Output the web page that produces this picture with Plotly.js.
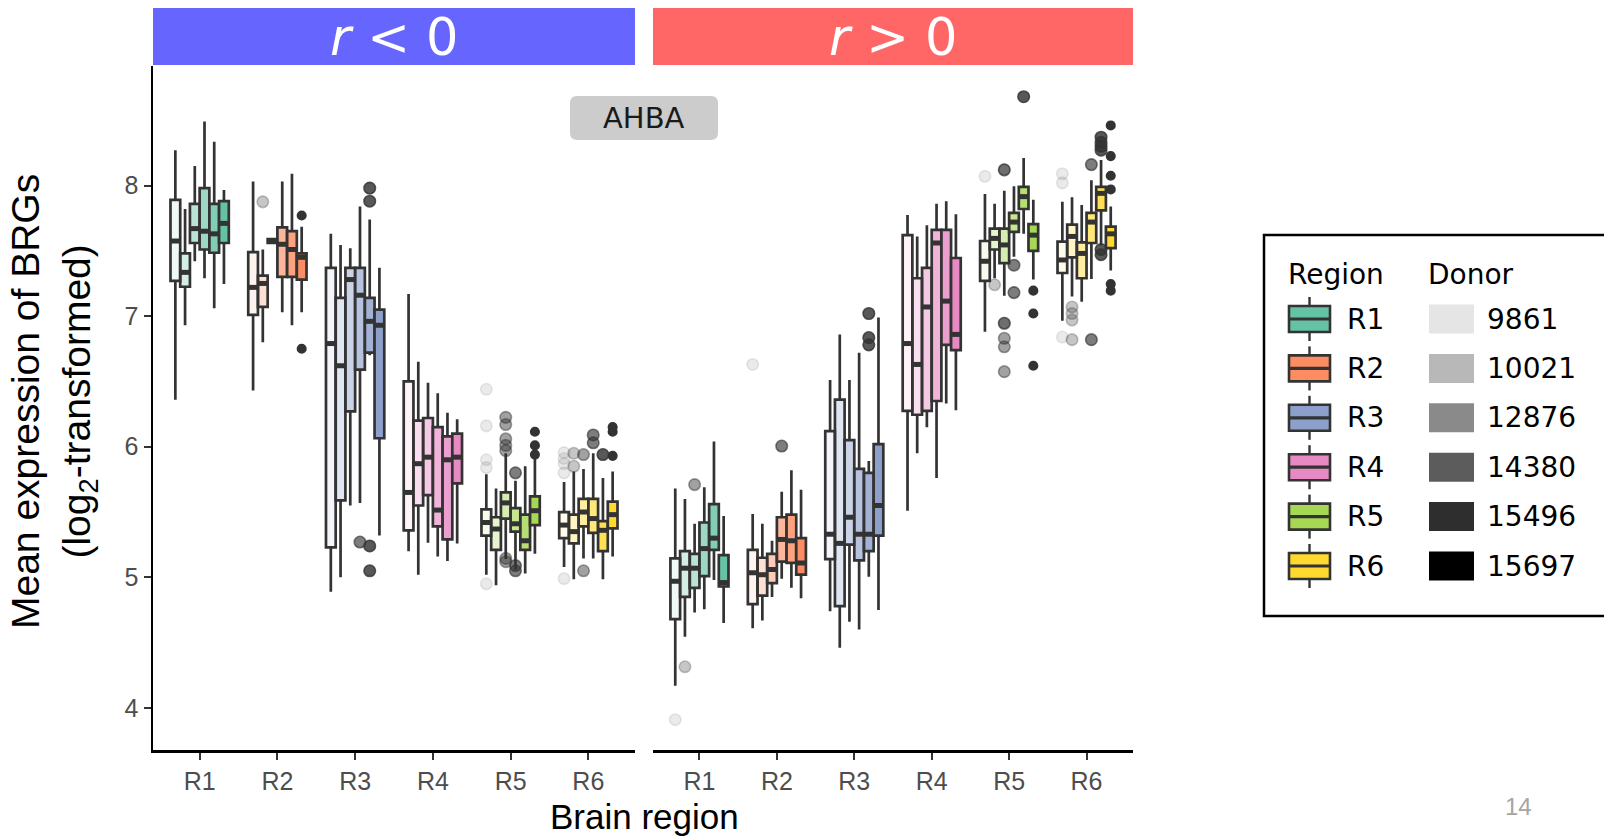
<!DOCTYPE html>
<html><head><meta charset="utf-8">
<script src="https://cdn.plot.ly/plotly-3.0.1.min.js"></script>
<style>html,body{margin:0;padding:0;background:#fff;}#chart{width:1604px;height:837px;}</style>
</head><body><div id="chart"></div>
<script>
// ---------------- data ----------------
const regions = ['R1','R2','R3','R4','R5','R6'];
const donors = ['9861','10021','12876','14380','15496','15697'];
const panelLabels = ['<i>r</i> &lt; 0', '<i>r</i> &gt; 0'];
const regionColors = ['#66C2A5','#FC8D62','#8DA0CB','#E78AC3','#A6D854','#FFD92F'];
const donorAlpha = [0.1, 0.28, 0.46, 0.64, 0.82, 1.0];

// r < 0 panel : rows = region R1..R6, columns = donor (same order as donors)
const negLower = [
  [6.36, 6.93, 7.42, 7.29, 7.06, 7.245],
  [6.43, 6.80, 7.55, 7.03, 6.93, 7.03],
  [4.89, 5.00, 5.55, 5.57, 6.70, 5.32],
  [5.20, 5.02, 5.265, 5.16, 5.125, 5.26],
  [5.02, 4.94, 5.14, 5.06, 5.03, 5.18],
  [5.08, 4.985, 5.145, 5.145, 4.985, 5.16]];
const negQ1 = [
  [7.27, 7.225, 7.56, 7.51, 7.485, 7.56],
  [7.01, 7.07, 7.56, 7.30, 7.30, 7.28],
  [5.23, 5.59, 6.27, 6.59, 6.72, 6.065],
  [5.36, 5.55, 5.63, 5.39, 5.29, 5.72],
  [5.32, 5.21, 5.45, 5.35, 5.21, 5.40],
  [5.30, 5.26, 5.39, 5.34, 5.20, 5.375]];
const negMedian = [
  [7.575, 7.335, 7.67, 7.65, 7.63, 7.71],
  [7.22, 7.25, 7.575, 7.55, 7.51, 7.45],
  [6.79, 6.62, 7.28, 7.16, 6.96, 6.93],
  [5.65, 5.87, 5.92, 5.515, 5.90, 5.92],
  [5.42, 5.37, 5.57, 5.41, 5.28, 5.51],
  [5.40, 5.35, 5.50, 5.45, 5.36, 5.48]];
const negQ3 = [
  [7.89, 7.48, 7.86, 7.98, 7.86, 7.88],
  [7.49, 7.31, 7.59, 7.68, 7.65, 7.48],
  [7.37, 7.14, 7.37, 7.37, 7.14, 7.05],
  [6.50, 6.20, 6.22, 6.15, 6.08, 6.10],
  [5.52, 5.46, 5.65, 5.53, 5.48, 5.62],
  [5.50, 5.48, 5.60, 5.60, 5.43, 5.58]];
const negUpper = [
  [8.27, 7.82, 8.15, 8.49, 8.335, 7.965],
  [8.03, 7.51, 7.60, 8.03, 8.09, 7.685],
  [7.63, 7.545, 7.52, 7.84, 7.74, 7.37],
  [7.17, 6.65, 6.49, 6.41, 6.26, 6.21],
  [5.79, 5.68, 5.95, 5.74, 5.85, 5.95],
  [5.73, 5.81, 5.83, 5.95, 5.76, 5.81]];
const negOutRegion = ['R2','R2','R2','R3','R3','R3','R3','R3',
  'R5','R5','R5','R5','R5','R5','R5','R5','R5','R5','R5','R5','R5','R5','R5','R5','R5','R5',
  'R6','R6','R6','R6','R6','R6','R6','R6','R6','R6','R6','R6','R6','R6','R6'];
const negOutDonor = ['10021','15697','15697','14380','15496','15496','15496','15496',
  '9861','9861','9861','9861','9861','12876','12876','12876','12876','12876','12876','12876','14380','14380','14380','15697','15697','15697',
  '9861','9861','9861','9861','9861','10021','10021','12876','12876','14380','14380','15496','15697','15697','15697'];
const negOutValue = [7.875, 7.77, 6.75, 5.27, 7.98, 7.88, 5.24, 5.05,
  6.44, 6.16, 5.90, 5.84, 4.95, 6.225, 6.17, 6.06, 6.01, 5.97, 5.145, 5.12, 5.80, 5.09, 5.05, 6.115, 6.01, 5.94,
  5.955, 5.91, 5.87, 5.80, 4.99, 5.95, 5.85, 5.94, 5.05, 6.09, 6.03, 5.94, 6.15, 6.115, 5.93];

// r > 0 panel
const posLower = [
  [4.17, 4.545, 4.73, 4.755, 4.98, 4.65],
  [4.61, 4.67, 4.85, 4.99, 4.92, 4.84],
  [4.74, 4.46, 4.66, 4.60, 5.005, 4.75],
  [5.51, 5.95, 6.15, 5.76, 6.33, 6.28],
  [6.88, 7.29, 7.155, 7.455, 7.63, 7.28],
  [6.965, 7.15, 7.11, 7.285, 7.54, 7.35]];
const posQ1 = [
  [4.68, 4.85, 4.92, 5.01, 5.21, 4.93],
  [4.795, 4.86, 4.955, 5.12, 5.11, 5.02],
  [5.14, 4.78, 5.25, 5.13, 5.20, 5.32],
  [6.275, 6.245, 6.275, 6.35, 6.78, 6.74],
  [7.27, 7.51, 7.405, 7.645, 7.82, 7.50],
  [7.33, 7.45, 7.29, 7.56, 7.81, 7.52]];
const posMedian = [
  [4.97, 5.07, 5.07, 5.22, 5.30, 4.96],
  [5.035, 5.02, 5.06, 5.29, 5.28, 5.11],
  [5.33, 5.26, 5.46, 5.33, 5.33, 5.55],
  [6.79, 6.63, 7.07, 7.56, 7.115, 6.86],
  [7.42, 7.595, 7.545, 7.72, 7.915, 7.62],
  [7.43, 7.61, 7.48, 7.72, 7.94, 7.63]];
const posQ3 = [
  [5.145, 5.20, 5.18, 5.42, 5.56, 5.17],
  [5.21, 5.15, 5.18, 5.46, 5.48, 5.30],
  [6.12, 6.36, 6.05, 5.83, 5.80, 6.02],
  [7.62, 7.29, 7.37, 7.66, 7.66, 7.445],
  [7.575, 7.67, 7.67, 7.79, 7.99, 7.705],
  [7.57, 7.70, 7.565, 7.79, 7.99, 7.685]];
const posUpper = [
  [5.68, 5.60, 5.41, 5.69, 6.04, 5.47],
  [5.485, 5.41, 5.28, 5.655, 5.82, 5.67],
  [6.51, 6.86, 6.51, 6.72, 5.89, 6.99],
  [7.775, 7.61, 7.695, 7.86, 7.88, 7.78],
  [7.935, 7.86, 7.96, 7.995, 8.21, 7.89],
  [7.875, 7.91, 7.85, 8.04, 8.195, 7.84]];
const posOutRegion = ['R1','R1','R1','R2','R2','R3','R3','R3',
  'R5','R5','R5','R5','R5','R5','R5','R5','R5','R5','R5','R5','R5','R5','R5',
  'R6','R6','R6','R6','R6','R6','R6','R6','R6','R6','R6','R6','R6','R6','R6','R6','R6','R6','R6','R6','R6'];
const posOutDonor = ['9861','10021','12876','9861','14380','15496','15496','15496',
  '9861','10021','12876','12876','12876','12876','12876','12876','12876','14380','14380','15496','15697','15697','15697',
  '9861','9861','9861','10021','10021','10021','10021','14380','14380','15496','15496','15496','15496','15496','15496','15697','15697','15697','15697','15697','15697'];
const posOutValue = [3.91, 4.315, 5.71, 6.63, 6.005, 7.02, 6.835, 6.78,
  8.07, 7.24, 8.12, 8.12, 6.945, 6.945, 6.83, 6.765, 6.575, 7.39, 7.18, 8.68, 7.195, 7.02, 6.62,
  8.09, 8.02, 6.84, 7.07, 7.02, 6.97, 6.82, 8.16, 6.82, 8.37, 8.33, 8.30, 8.27, 7.51, 7.47, 8.46, 8.225, 8.075, 7.97, 7.245, 7.195];

// ---------------- geometry helpers (layout only) ----------------
const PL = 153, PR = 1133, PT = 66, PB = 750;
const px2x = p => (p - PL) / (PR - PL);
const px2y = p => (PB - p) / (PB - PT);
const slot = 0.125;
const offset = d => (d - (donors.length - 1) / 2) * slot;

function hexA(hex, a) {
  const r = parseInt(hex.slice(1,3),16), g = parseInt(hex.slice(3,5),16), b = parseInt(hex.slice(5,7),16);
  return `rgba(${r},${g},${b},${a})`;
}

const panels = [
  {xa:'x',  lower:negLower, q1:negQ1, med:negMedian, q3:negQ3, upper:negUpper, oR:negOutRegion, oD:negOutDonor, oV:negOutValue},
  {xa:'x2', lower:posLower, q1:posQ1, med:posMedian, q3:posQ3, upper:posUpper, oR:posOutRegion, oD:posOutDonor, oV:posOutValue}
];

const traces = [];
panels.forEach(P => {
  const mx = [], my = [];
  regions.forEach((reg, r) => {
    donors.forEach((don, d) => {
      const xc = r + 1 + offset(d);
      traces.push({
        type:'box', orientation:'v', xaxis:P.xa, yaxis:'y',
        x:[xc], q1:[P.q1[r][d]], median:[P.med[r][d]], q3:[P.q3[r][d]],
        lowerfence:[P.lower[r][d]], upperfence:[P.upper[r][d]],
        width: slot, whiskerwidth:0, boxpoints:false,
        fillcolor: hexA(regionColors[r], donorAlpha[d]),
        line:{color:'#333333', width:2.7},
        showlegend:false, hoverinfo:'skip'
      });
      mx.push(xc - slot/2, xc + slot/2, null);
      my.push(P.med[r][d], P.med[r][d], null);
    });
  });
  traces.push({type:'scatter', mode:'lines', xaxis:P.xa, yaxis:'y', x:mx, y:my,
    line:{color:'#333333', width:5}, showlegend:false, hoverinfo:'skip'});
  donors.forEach((don, d) => {
    const xs = [], ys = [];
    P.oV.forEach((v, i) => {
      if (P.oD[i] === don) { xs.push(regions.indexOf(P.oR[i]) + 1 + offset(d)); ys.push(v); }
    });
    if (!xs.length) return;
    const col = `rgba(51,51,51,${donorAlpha[d]})`;
    traces.push({type:'scatter', mode:'markers', xaxis:P.xa, yaxis:'y', x:xs, y:ys,
      marker:{size: d === donors.length - 1 ? 8.5 : 11.5, color:col, line:{color:col, width:1.6}},
      showlegend:false, hoverinfo:'skip'});
  });
});

// ---------------- layout ----------------
const tickFont = {family:'Liberation Sans, Arial, sans-serif', size:25, color:'#4d4d4d'};
function xax(domain) {
  return {domain, range:[0.4, regions.length + 0.6], tickvals:regions.map((_,i)=>i+1), ticktext:regions,
    showline:true, linecolor:'#000', linewidth:2.5, ticks:'outside', ticklen:7, tickwidth:2, tickcolor:'#333',
    tickfont:tickFont, showgrid:false, zeroline:false, anchor:'y', fixedrange:true};
}
const shapes = [], annotations = [];
function rectPx(x0, y0, x1, y1, fill, line) {
  shapes.push({type:'rect', xref:'paper', yref:'paper', x0:px2x(x0), x1:px2x(x1), y0:px2y(y0), y1:px2y(y1),
    fillcolor:fill, line: line || {width:0}, layer:'above'});
}
function linePx(x0, y0, x1, y1, color, width) {
  shapes.push({type:'line', xref:'paper', yref:'paper', x0:px2x(x0), x1:px2x(x1), y0:px2y(y0), y1:px2y(y1),
    line:{color, width}, layer:'above'});
}
function textPx(text, x, y, size, color, family, xanchor, extra) {
  annotations.push(Object.assign({xref:'paper', yref:'paper', x:px2x(x), y:px2y(y), text, showarrow:false,
    xanchor: xanchor || 'center', yanchor:'middle', font:{size, color, family}}, extra || {}));
}

// facet strips
rectPx(153, 8, 635, 65, '#6666FF');
rectPx(653, 8, 1133, 65, '#FF6666');
textPx(panelLabels[0], 394, 38, 51, '#ffffff', 'DejaVu Sans, sans-serif');
textPx(panelLabels[1], 893, 38, 51, '#ffffff', 'DejaVu Sans, sans-serif');

// AHBA label (rounded grey box)
(function(){
  const x0=570, x1=718, y0=96, y1=140, rr=7;
  const X = px2x, Y = px2y;
  const path = `M ${X(x0+rr)},${Y(y0)} L ${X(x1-rr)},${Y(y0)} Q ${X(x1)},${Y(y0)} ${X(x1)},${Y(y0+rr)} ` +
    `L ${X(x1)},${Y(y1-rr)} Q ${X(x1)},${Y(y1)} ${X(x1-rr)},${Y(y1)} L ${X(x0+rr)},${Y(y1)} ` +
    `Q ${X(x0)},${Y(y1)} ${X(x0)},${Y(y1-rr)} L ${X(x0)},${Y(y0+rr)} Q ${X(x0)},${Y(y0)} ${X(x0+rr)},${Y(y0)} Z`;
  shapes.push({type:'path', xref:'paper', yref:'paper', path, fillcolor:'#CCCCCC', line:{width:0}, layer:'below'});
  textPx('AHBA', 644, 118, 29, '#1a1a1a', 'DejaVu Sans, sans-serif');
})();

// axis titles
textPx('Brain region', 644, 817, 35, '#000', 'Liberation Sans, Arial, sans-serif');
textPx('Mean expression of BRGs<br>(log<sub>2</sub>-transformed)', 54, 402, 39, '#000',
  'Liberation Sans, Arial, sans-serif', 'center', {textangle:-90});

// legend (drawn manually)
rectPx(1264, 235, 1612, 616, 'rgba(0,0,0,0)', {color:'#000', width:2.5});
textPx('Region', 1286, 274, 28, '#000', 'DejaVu Sans, sans-serif', 'left');
textPx('Donor', 1426, 274, 28, '#000', 'DejaVu Sans, sans-serif', 'left');
regions.forEach((reg, k) => {
  const yc = 319 + 49.4 * k;
  linePx(1309.5, yc - 22, 1309.5, yc - 13, '#333', 2.4);
  linePx(1309.5, yc + 13, 1309.5, yc + 22, '#333', 2.4);
  rectPx(1289, yc - 13, 1330, yc + 13, regionColors[k], {color:'#333', width:2.6});
  linePx(1289, yc, 1330, yc, '#333', 3.2);
  textPx(reg, 1345, yc, 28, '#000', 'DejaVu Sans, sans-serif', 'left');
});
donors.forEach((don, k) => {
  const yc = 319 + 49.4 * k;
  rectPx(1429, yc - 14.5, 1474, yc + 14.5, `rgba(0,0,0,${donorAlpha[k]})`);
  textPx(don, 1485, yc, 28, '#000', 'DejaVu Sans, sans-serif', 'left');
});

// slide number
textPx('14', 1518, 806, 24, '#a6a6a6', 'Liberation Sans, Arial, sans-serif');

const layout = {
  width:1604, height:837,
  margin:{l:PL, r:1604-PR, t:PT, b:837-PB, pad:0},
  paper_bgcolor:'#ffffff', plot_bgcolor:'rgba(0,0,0,0)',
  showlegend:false,
  xaxis: xax([0, (635-PL)/(PR-PL)]),
  xaxis2: xax([(653-PL)/(PR-PL), 1]),
  yaxis: {range:[3.678, 8.915], tickvals:[4,5,6,7,8], showline:true, linecolor:'#000', linewidth:2.5,
    ticks:'outside', ticklen:7, tickwidth:2, tickcolor:'#333', tickfont:tickFont,
    showgrid:false, zeroline:false, anchor:'x', fixedrange:true},
  shapes, annotations
};
Plotly.newPlot('chart', traces, layout, {staticPlot:true, displayModeBar:false});
</script></body></html>
